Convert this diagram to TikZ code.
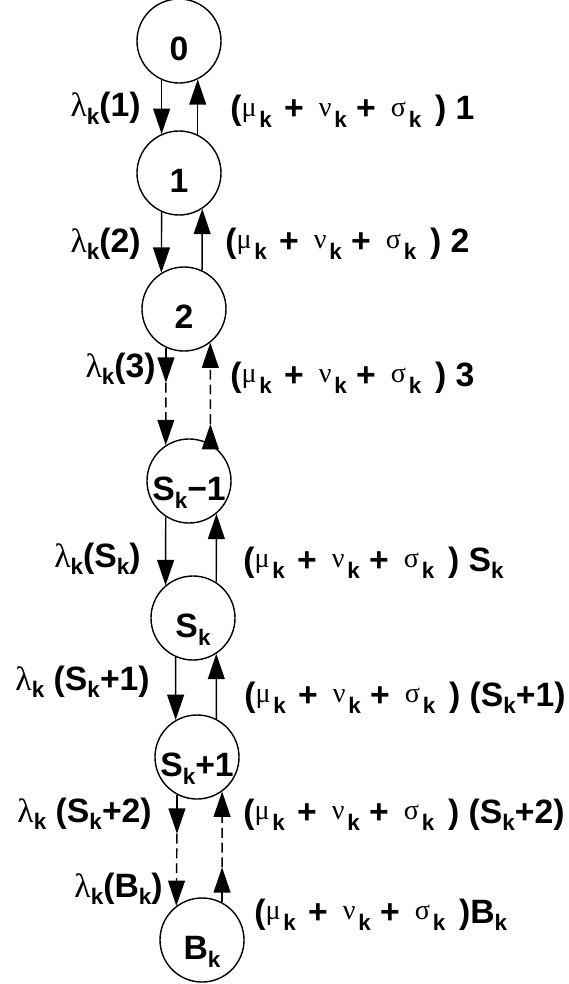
\documentclass[tikz,border=0pt]{standalone}
\usepackage{fontspec}
\setmainfont{Liberation Sans}
\newfontfamily\grk{Liberation Serif}
\usetikzlibrary{arrows.meta}

% subscript k and the rate symbols
\newcommand{\subk}{\raisebox{-5.5pt}{\fontsize{16}{17}\selectfont k}}
\newcommand{\lamk}{{\grk\mdseries λ}\subk}
\newcommand{\grsub}[1]{\raisebox{2.5pt}{\grk\mdseries\fontsize{20}{21}\selectfont #1}\hspace{2pt}\subk}
\newcommand{\rates}{(\grsub{μ}\hspace{2pt} + \hspace{4pt}\grsub{ν} + \hspace{4pt}\grsub{σ}\hspace{3pt} )}

\tikzset{
  state/.style={draw,circle,line width=1pt,minimum size=2.1cm,inner sep=0pt,
    text height=0.975cm,text depth=0pt},
  lbl/.style={inner sep=0pt},
  flow/.style={line width=1pt,-{Triangle[length=18pt,width=12pt]}},
  brk/.style={dash pattern=on 7pt off 3.5pt},
}

\begin{document}
\begin{tikzpicture}[x=0.025cm,y=-0.025cm,font=\bfseries\fontsize{24}{28}\selectfont]
  \useasboundingbox (0,0) rectangle (568,984);
  % states
  \node[state] (s0) at (179,41) {0};
  \node[state] (s1) at (179,173) {1};
  \node[state] (s2) at (184,309) {2};
  \node[state] (sm) at (189,481) {S\subk−1};
  \node[state] (sk) at (193,618) {S\subk};
  \node[state] (sp) at (197,757) {S\subk+1};
  \node[state] (bk) at (202,940) {B\subk};
  % break points of the dashed transitions
  \path (s2.245) ++(0,35) coordinate (d1);
  \path (sm.60) ++(0,-20) coordinate (u1);
  \path (sp.242) ++(0,39) coordinate (d2);
  \path (bk.62) ++(0,-35) coordinate (u2);
  % transitions
  \draw[flow] (s0.246) -- (s1.114);
  \draw[flow] (s1.64) -- (s0.296);
  \draw[flow] (s1.246) -- (s2.122);
  \draw[flow] (s2.65) -- (s1.303);
  \draw[flow] (s2.245) -- (d1);
  \draw[flow,brk] (d1) -- (sm.123);
  \draw[flow] (sm.60) -- (u1);
  \draw[flow,brk] (u1) -- (s2.308);
  \draw[flow] (sm.237) -- (sk.130);
  \draw[flow] (sk.57) -- (sm.310);
  \draw[flow] (sk.246) -- (sp.120);
  \draw[flow] (sp.63) -- (sk.303);
  \draw[flow] (sp.242) -- (d2);
  \draw[flow,brk] (d2) -- (bk.127);
  \draw[flow] (bk.62) -- (u2);
  \draw[flow,brk] (u2) -- (sp.306);
  % arrival rates
  \node[lbl,anchor=base east] (a1) at (141,117) {\lamk(1)};
  \node[lbl,anchor=base east] (a2) at (141,252) {\lamk(2)};
  \node[lbl,anchor=base east] (a3) at (156,377) {\lamk(3)};
  \node[lbl,anchor=base east] (a4) at (141,567) {\lamk(S\subk)};
  \node[lbl,anchor=base east] (a5) at (150,690) {\lamk{} (S\subk+1)};
  \node[lbl,anchor=base east] (a6) at (152,822) {\lamk{} (S\subk+2)};
  \node[lbl,anchor=base east] (a7) at (163,897) {\lamk(B\subk)};
  % departure rates
  \node[lbl,anchor=base west] (b1) at (230,120) {\rates{} 1};
  \node[lbl,anchor=base west] (b2) at (225,252) {\rates{} 2};
  \node[lbl,anchor=base west] (b3) at (230,386) {\rates{} 3};
  \node[lbl,anchor=base west] (b4) at (243,571) {\rates{} S\subk};
  \node[lbl,anchor=base west] (b5) at (244,706) {\rates{} (S\subk+1)};
  \node[lbl,anchor=base west] (b6) at (243,823) {\rates{} (S\subk+2)};
  \node[lbl,anchor=base west] (b7) at (254,923) {\rates{}B\subk};
\end{tikzpicture}
\end{document}
